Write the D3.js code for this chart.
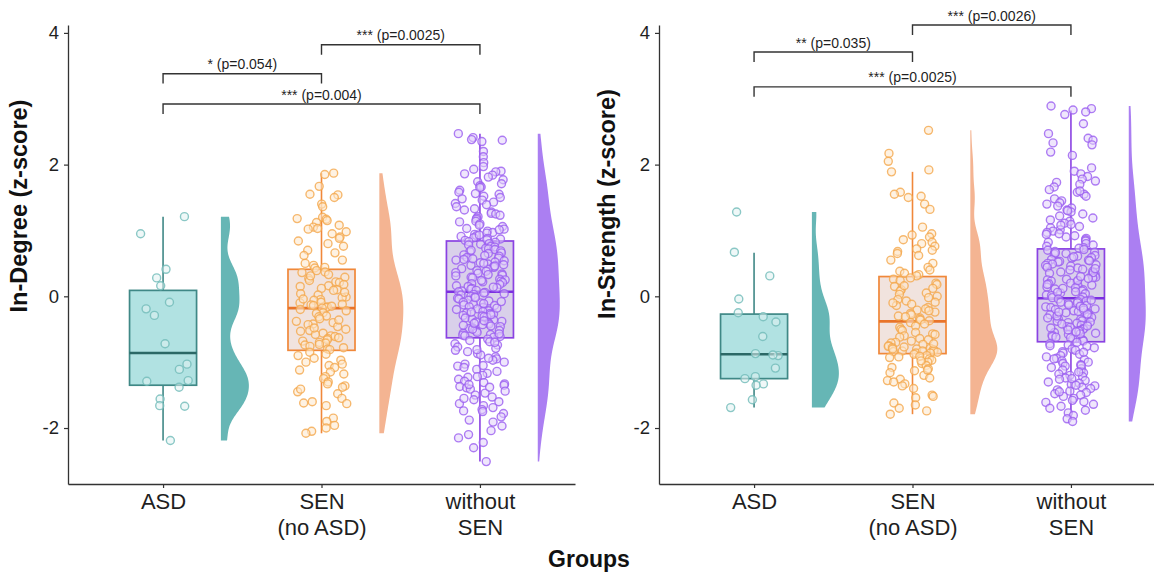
<!DOCTYPE html>
<html>
<head>
<meta charset="utf-8">
<script src="https://cdn.jsdelivr.net/npm/d3@7"></script>
<style>
  body { margin: 0; background: #fff; }
  svg { display: block; font-family: "Liberation Sans", Arial, Helvetica, sans-serif; }
</style>
</head>
<body>
<svg id="chart" width="1154" height="573"></svg>
<script>
// ---------------- data ----------------
const groupLabels = [["ASD"], ["SEN", "(no ASD)"], ["without", "SEN"]];
const yTicks = [-2, 0, 2, 4];

// In-Degree (z-score), one value per child
const degreeASD = [1.21, 0.95, 0.41, 0.28, 0.16, -0.09, -0.19, -0.29, -0.72, -1.03, -1.11, -1.29, -1.28, -1.38, -1.56, -1.67, -1.66, -2.19];
const degreeSEN = [
  1.87, 1.85, 1.67, 1.55, 1.54, 1.50, 1.40, 1.36, 1.20, 1.18, 1.17, 1.15, 1.12, 1.08, 1.05, 1.03, 1.02, 0.98, 0.95, 0.90,
  0.88, 0.84, 0.80, 0.76, 0.70, 0.66, 0.62, 0.55, 0.50, 0.47, 0.44, 0.43,
  0.39, 0.37, 0.36, 0.33, 0.29, 0.27, 0.24, 0.22, 0.21, 0.16, 0.15, 0.12, 0.10, 0.09, 0.04, 0.02, -0.01, -0.02, -0.05, -0.06,
  -0.09, -0.10, -0.12, -0.13, -0.14, -0.16, -0.17, -0.18, 0.31, 0.18, 0.06, -0.04, -0.15,
  -0.20, -0.22, -0.25, -0.26, -0.30, -0.31, -0.34, -0.38, -0.40, -0.42, -0.43, -0.46, -0.50, -0.52, -0.53, -0.56, -0.58,
  -0.60, -0.61, -0.64, -0.66, -0.68, -0.70, -0.71, -0.74, -0.76, -0.78, -0.80, -0.81, -0.36, -0.48, -0.63, -0.73,
  -0.85, -0.88, -0.90, -0.94, -0.97, -1.00, -1.03, -1.05, -1.08, -1.12, -1.15, -1.18, -1.22, -1.25, -1.30, -1.33, -1.36,
  -1.38, -1.45, -1.48, -1.55, -1.60, -1.62, -1.63, -1.66, -1.85, -1.90, -1.96, -2.00, -2.05, -2.08, -1.41
];
const degreeNoSEN = [
  2.47, 2.41, 2.38, 2.37, 2.35, 2.20, 2.12, 2.03, 1.97, 1.93, 1.90, 1.89, 1.86, 1.84, 1.81, 1.77, 1.74, 1.71, 1.68, 1.66,
  1.65, 1.61, 1.58, 1.56, 1.55, 1.52, 1.48, 1.46, 1.43, 1.41, 1.39, 1.36, 1.33, 1.31, 1.28, 1.26, 1.25, 1.21, 1.19, 1.17,
  1.14, 1.13, 1.10, 1.08, 1.06, 1.03, 1.02, 0.99, 0.97, 0.96, 0.94, 0.92, 0.91, 0.89, 0.88, 0.87, 0.86, 0.85, 1.50, 1.23,
  1.01, 0.93,
  0.83, 0.82, 0.80, 0.79, 0.78, 0.76, 0.75, 0.73, 0.72, 0.71, 0.69, 0.68, 0.66, 0.65, 0.63, 0.62, 0.61, 0.59, 0.58, 0.56,
  0.55, 0.54, 0.52, 0.51, 0.49, 0.48, 0.47, 0.45, 0.44, 0.42, 0.41, 0.39, 0.38, 0.36, 0.35, 0.34, 0.32, 0.31, 0.29, 0.28,
  0.26, 0.25, 0.23, 0.22, 0.21, 0.19, 0.18, 0.16, 0.15, 0.13, 0.12, 0.11, 0.09, 0.08, 0.07, 0.57, 0.46, 0.33, 0.24, 0.14,
  0.70, 0.50,
  0.06, 0.05, 0.03, 0.02, 0.00, -0.01, -0.03, -0.04, -0.06, -0.07, -0.09, -0.10, -0.12, -0.13, -0.14, -0.16, -0.17, -0.19,
  -0.20, -0.22, -0.23, -0.25, -0.26, -0.27, -0.29, -0.30, -0.32, -0.33, -0.35, -0.36, -0.38, -0.39, -0.40, -0.42, -0.43,
  -0.45, -0.46, -0.48, -0.49, -0.51, -0.52, -0.53, -0.55, -0.56, -0.58, -0.59, -0.61, -0.62, -0.02, -0.11, -0.18, -0.24,
  -0.31, -0.37, -0.44, -0.50, -0.57, 0.04, -0.08, -0.28, -0.41, -0.60,
  -0.65, -0.67, -0.69, -0.72, -0.74, -0.77, -0.79, -0.82, -0.84, -0.87, -0.89, -0.92, -0.95, -0.97, -1.00, -1.03, -1.06,
  -1.08, -1.11, -1.14, -1.17, -1.20, -1.23, -1.26, -1.29, -1.31, -1.33, -1.35, -1.37, -1.39, -1.41, -1.44, -1.47, -1.50,
  -1.53, -1.57, -1.60, -1.63, -1.66, -1.69, -1.72, -1.75, -1.78, -1.83, -1.88, -1.91, -1.97, -2.04, -2.10, -2.15, -2.22,
  -2.30, -2.51, -0.70, -0.81, -0.94, -1.05, -1.22, -1.34, -1.38, -1.55, -1.74
];

// In-Strength (z-score)
const strengthASD = [1.28, 0.67, 0.31, -0.04, -0.25, -0.31, -0.39, -0.61, -0.90, -0.89, -0.87, -1.09, -1.22, -1.25, -1.33, -1.35, -1.57, -1.69];
const strengthSEN = [
  2.52, 2.17, 2.05, 1.92, 1.89, 1.58, 1.55, 1.52, 1.50, 1.40, 1.32, 1.05, 0.95, 0.93, 0.90, 0.86, 0.82, 0.80, 0.76, 0.72,
  0.70, 0.68, 0.65, 0.62, 0.55, 0.50, 0.44, 0.40, 0.38, 0.35, 0.33, 0.31,
  0.28, 0.26, 0.24, 0.20, 0.18, 0.15, 0.12, 0.10, 0.08, 0.05, 0.03, 0.00, -0.02, -0.05, -0.07, -0.09, -0.12, -0.14, -0.17,
  -0.19, -0.21, -0.24, -0.26, -0.28, -0.30, -0.31, -0.33, -0.35, -0.36, -0.37, 0.16, -0.10, -0.22,
  -0.40, -0.42, -0.45, -0.47, -0.50, -0.52, -0.55, -0.57, -0.60, -0.62, -0.64, -0.66, -0.68, -0.70, -0.71, -0.73, -0.75,
  -0.76, -0.78, -0.79, -0.80, -0.81, -0.82, -0.83, -0.84, -0.85, -0.86, -0.58, -0.72, -0.77, -0.80, -0.83, -0.86,
  -0.88, -0.90, -0.92, -0.93, -0.95, -0.97, -1.00, -1.02, -1.05, -1.08, -1.10, -1.13, -1.16, -1.20, -1.24, -1.26, -1.28,
  -1.30, -1.33, -1.36, -1.40, -1.50, -1.52, -1.54, -1.62, -1.65, -1.70, -1.74, -1.79, -0.91, -0.98, -1.12
];
const strengthNoSEN = [
  2.89, 2.85, 2.83, 2.80, 2.76, 2.62, 2.47, 2.40, 2.37, 2.33, 2.30, 2.19, 2.14, 1.95, 1.90, 1.86, 1.82, 1.78, 1.75, 1.73,
  1.70, 1.66, 1.62, 1.58, 1.55, 1.52, 1.48, 1.45, 1.42, 1.40, 1.37, 1.34, 1.31, 1.28, 1.25, 1.22, 1.19, 1.16, 1.14, 1.11,
  1.09, 1.06, 1.04, 1.01, 0.99, 0.97, 0.94, 0.92, 0.90, 0.88, 0.86, 0.84, 0.82, 0.80, 0.78, 0.76, 0.74, 0.73, 1.60, 1.30,
  1.08, 0.95,
  0.71, 0.70, 0.68, 0.67, 0.65, 0.64, 0.62, 0.61, 0.59, 0.58, 0.56, 0.55, 0.53, 0.52, 0.50, 0.49, 0.47, 0.46, 0.44, 0.43,
  0.41, 0.40, 0.38, 0.37, 0.35, 0.34, 0.32, 0.31, 0.29, 0.28, 0.26, 0.25, 0.23, 0.22, 0.20, 0.19, 0.17, 0.16, 0.14, 0.13,
  0.11, 0.10, 0.08, 0.07, 0.05, 0.04, 0.02, 0.01, -0.01, -0.02, 0.60, 0.48, 0.36, 0.24, 0.12, 0.66, 0.42, 0.30, 0.18, 0.06,
  0.54, 0.27,
  -0.04, -0.05, -0.07, -0.08, -0.10, -0.11, -0.13, -0.14, -0.16, -0.17, -0.19, -0.20, -0.22, -0.23, -0.25, -0.26, -0.28,
  -0.29, -0.31, -0.32, -0.34, -0.35, -0.37, -0.38, -0.40, -0.41, -0.43, -0.44, -0.46, -0.47, -0.49, -0.50, -0.52, -0.53,
  -0.55, -0.56, -0.58, -0.59, -0.61, -0.62, -0.64, -0.65, -0.66, -0.67, -0.68, -0.09, -0.15, -0.21, -0.27, -0.33, -0.39,
  -0.45, -0.51, -0.57, -0.63, -0.06, -0.18, -0.30, -0.42, -0.54, -0.24, -0.48,
  -0.70, -0.72, -0.74, -0.76, -0.78, -0.80, -0.82, -0.84, -0.86, -0.88, -0.90, -0.92, -0.94, -0.96, -0.98, -1.00, -1.02,
  -1.04, -1.06, -1.08, -1.10, -1.12, -1.14, -1.16, -1.18, -1.20, -1.22, -1.24, -1.26, -1.28, -1.30, -1.32, -1.34, -1.36,
  -1.38, -1.40, -1.42, -1.44, -1.46, -1.48, -1.50, -1.52, -1.55, -1.58, -1.61, -1.64, -1.67, -1.70, -1.73, -1.77, -1.81,
  -1.86, -1.90, -0.75, -0.85, -0.95, -1.05, -1.15, -1.25, -1.35, -1.45, -1.60
];

// box stats: [lower whisker, Q1, median, Q3, upper whisker]
const degreeBoxes = [[-2.19, -1.35, -0.86, 0.09, 1.21], [-2.08, -0.82, -0.18, 0.41, 1.87], [-2.51, -0.63, 0.07, 0.84, 2.47]];
const strengthBoxes = [[-1.69, -1.25, -0.88, -0.27, 0.66], [-1.79, -0.87, -0.38, 0.30, 1.89], [-1.88, -0.69, -0.03, 0.72, 2.82]];

// pairwise tests: [group a, group b, bracket height, label]
const degreeTests = [[1, 2, 3.38, "* (p=0.054)"], [2, 3, 3.82, "*** (p=0.0025)"], [1, 3, 2.92, "*** (p=0.004)"]];
const strengthTests = [[1, 2, 3.71, "** (p=0.035)"], [2, 3, 4.12, "*** (p=0.0026)"], [1, 3, 3.18, "*** (p=0.0025)"]];

// ---------------- style ----------------
const palette = [
  { box: "#b1e2e2", line: "#3f8886", median: "#2b6866", violin: "#66b6b5", ptStroke: "#6fbab8", ptFill: "#e2f3f3" },
  { box: "#f1e3de", line: "#f0883a", median: "#e9742a", violin: "#f4b492", ptStroke: "#f4a84c", ptFill: "#fde8cc" },
  { box: "#d9d0ea", line: "#8a42e2", median: "#7b2fe0", violin: "#ab7ff2", ptStroke: "#9a5cf0", ptFill: "#e1d2fa" }
];
const textColor = "#1f1f1f";
const axisColor = "#333";

const svg = d3.select("#chart");
svg.append("rect").attr("width", 1154).attr("height", 573).attr("fill", "#fff");

function jitter(i, k) {
  const s = Math.sin((i + 1) * 12.9898 + k * 78.233) * 43758.5453;
  return s - Math.floor(s) - 0.5;
}

function kde(values, bw, n) {
  const lo = d3.min(values), hi = d3.max(values);
  return d3.range(n + 1).map(j => {
    const t = lo + (hi - lo) * j / n;
    const d = d3.mean(values, v => Math.exp(-0.5 * ((t - v) / bw) ** 2)) / bw;
    return [t, d];
  });
}

function drawPanel(opt) {
  const g = svg.append("g");
  const x = d3.scaleLinear().domain([0.4, 3.6]).range([opt.left, opt.left + 507]);
  const y = d3.scaleLinear().domain([-2.85, 4.12]).range([484, 25]);

  // y axis (plain hyphen for negatives, like the original)
  const gy = g.append("g")
    .attr("transform", `translate(${opt.left},0)`)
    .call(d3.axisLeft(y).tickValues(yTicks).tickFormat(d => String(d)).tickSize(4).tickPadding(5).tickSizeOuter(0));
  gy.select(".domain").attr("stroke", axisColor).attr("stroke-width", 1.3);
  gy.selectAll(".tick line").attr("stroke", axisColor).attr("stroke-width", 1.2);
  gy.selectAll(".tick text").attr("font-size", 18.5).attr("fill", textColor)
    .attr("font-family", "Liberation Sans, Arial, sans-serif");

  // x axis
  const gx = g.append("g")
    .attr("transform", "translate(0,484)")
    .call(d3.axisBottom(x).tickValues([1, 2, 3]).tickSize(4).tickFormat("").tickSizeOuter(0));
  gx.select(".domain").attr("stroke", axisColor).attr("stroke-width", 1.3);
  gx.selectAll(".tick line").attr("stroke", axisColor).attr("stroke-width", 1.2);
  gx.selectAll(".tick").each(function (d, i) {
    const t = d3.select(this).append("text")
      .attr("fill", textColor).attr("font-size", 22).attr("text-anchor", "middle");
    groupLabels[i].forEach((line, k) => {
      t.append("tspan").attr("x", 0).attr("y", 25 + k * 26).text(line);
    });
  });

  // y title
  g.append("text")
    .attr("transform", `translate(${opt.titleX},${opt.titleY}) rotate(-90)`)
    .attr("text-anchor", "middle")
    .attr("font-weight", "bold").attr("font-size", 23.5).attr("fill", "#111")
    .text(opt.title);

  const boxHalf = 0.2115, violinOff = 0.365;
  opt.series.forEach((vals, gi) => {
    const c = palette[gi];
    const cx = gi + 1;
    const [lw, q1, med, q3, uw] = opt.boxes[gi];

    // whiskers
    g.append("line").attr("x1", x(cx)).attr("x2", x(cx)).attr("y1", y(uw)).attr("y2", y(q3))
      .attr("stroke", c.line).attr("stroke-width", 1.6);
    g.append("line").attr("x1", x(cx)).attr("x2", x(cx)).attr("y1", y(q1)).attr("y2", y(lw))
      .attr("stroke", c.line).attr("stroke-width", 1.6);
    // box
    g.append("rect")
      .attr("x", x(cx - boxHalf)).attr("width", x(cx + boxHalf) - x(cx - boxHalf))
      .attr("y", y(q3)).attr("height", y(q1) - y(q3))
      .attr("fill", c.box).attr("stroke", c.line).attr("stroke-width", 1.7);
    g.append("line")
      .attr("x1", x(cx - boxHalf)).attr("x2", x(cx + boxHalf)).attr("y1", y(med)).attr("y2", y(med))
      .attr("stroke", c.median).attr("stroke-width", 2.6);

    // jittered points
    g.append("g").selectAll("circle").data(vals).join("circle")
      .attr("cx", (d, i) => x(cx + jitter(i, gi + opt.seed) * 0.32))
      .attr("cy", d => y(d))
      .attr("r", 4)
      .attr("fill", c.ptFill).attr("fill-opacity", 0.55)
      .attr("stroke", c.ptStroke).attr("stroke-opacity", 0.8).attr("stroke-width", 1.4);

    // half violin
    const dens = kde(vals, opt.bw[gi], 120);
    const w = d3.scaleLinear().domain([0, d3.max(dens, d => d[1])]).range([0, opt.violinW[gi]]);
    const x0 = x(cx + violinOff);
    g.append("path").datum(dens)
      .attr("d", d3.area().curve(d3.curveBasis)
        .y(d => y(d[0])).x0(x0).x1(d => x0 + w(d[1])))
      .attr("fill", c.violin);
  });

  // significance brackets
  opt.tests.forEach(([a, b, h, label]) => {
    const tip = 0.15;
    g.append("path")
      .attr("d", `M${x(a)},${y(h - tip)}V${y(h)}H${x(b)}V${y(h - tip)}`)
      .attr("fill", "none").attr("stroke", "#333").attr("stroke-width", 1.4);
    g.append("text")
      .attr("x", (x(a) + x(b)) / 2).attr("y", y(h) - 4.5)
      .attr("text-anchor", "middle").attr("font-size", 14).attr("fill", textColor)
      .text(label);
  });
}

drawPanel({
  left: 68, title: "In-Degree (z-score)", titleX: 27, titleY: 206, seed: 0,
  series: [degreeASD, degreeSEN, degreeNoSEN], boxes: degreeBoxes, tests: degreeTests,
  bw: [0.22, 0.28, 0.28], violinW: [28, 24, 22]
});
drawPanel({
  left: 659, title: "In-Strength (z-score)", titleX: 615, titleY: 204, seed: 5,
  series: [strengthASD, strengthSEN, strengthNoSEN], boxes: strengthBoxes, tests: strengthTests,
  bw: [0.24, 0.2, 0.28], violinW: [27, 27, 17]
});

svg.append("text")
  .attr("x", 589).attr("y", 567).attr("text-anchor", "middle")
  .attr("font-weight", "bold").attr("font-size", 23).attr("fill", "#111")
  .text("Groups");
</script>
</body>
</html>
